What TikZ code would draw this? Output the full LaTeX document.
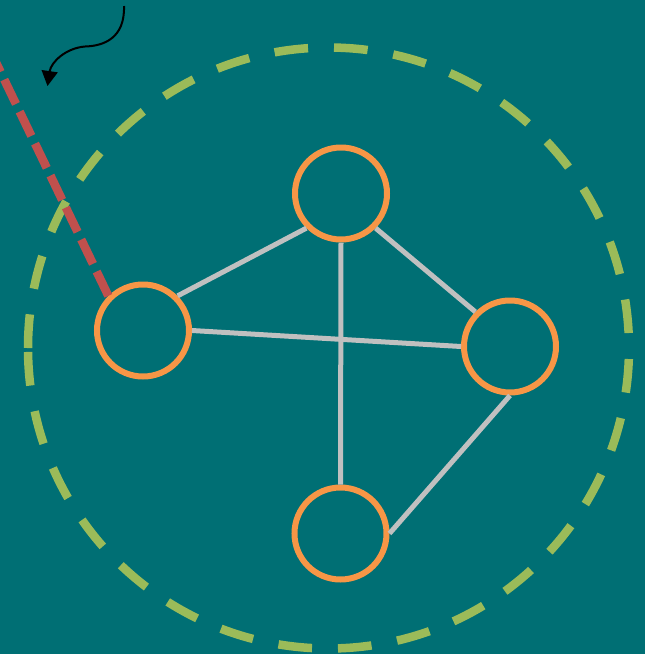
\documentclass[tikz,border=0pt]{standalone}
\usetikzlibrary{arrows.meta}
\definecolor{bgteal}{HTML}{006F74}
\definecolor{ringorange}{HTML}{F79646}
\definecolor{dashgreen}{HTML}{9BBB59}
\definecolor{dashred}{HTML}{C0504D}
\definecolor{edgegray}{HTML}{C0C0C0}
\tikzset{
  vertex/.style={circle, draw=ringorange, line width=6pt, minimum size=92pt, inner sep=0pt},
  edge/.style={draw=edgegray, line width=5pt},
  bigring/.style={draw=dashgreen, line width=8.5pt, dash pattern=on 33.7pt off 26pt},
  redlink/.style={draw=dashred, line width=8.5pt, dash pattern=on 27pt off 8.5pt},
  pointer/.style={draw=black, line width=2pt, -{Triangle[length=15pt,width=16pt]}}
}
\begin{document}
\begin{tikzpicture}[x=1pt,y=-1pt]
\fill[bgteal] (0,0) rectangle (645,654);
\useasboundingbox (0,0) rectangle (645,654);
\clip (0,0) rectangle (645,654);
\coordinate (ringc) at (328.5,348);
\draw[bigring] (ringc) ++(180:300.5) arc[start angle=180, end angle=540, radius=300.5];
\node[vertex] (top) at (341,193.5) {};
\node[vertex] (left) at (143,330.5) {};
\node[vertex] (right) at (510,346.5) {};
\node[vertex] (bottom) at (340.5,533.5) {};
\coordinate (far) at (-10,50);
\coordinate (tail) at (124,6);
\coordinate (tip) at (47.5,86);
\draw[edge] (top.south west) -- (left.north east);
\draw[edge] (top.south east) -- (right.north west);
\draw[edge] (top.south) -- (bottom.north);
\draw[edge] (left.east) -- (right.west);
\draw[edge] (right.south) -- (bottom.east);
\draw[redlink] (left.north west) -- (far);
\draw[pointer] (tail) .. controls (125,38) and (104,46) .. (85,46.5) .. controls (66,48) and (51,62) .. (tip);
\end{tikzpicture}
\end{document}
